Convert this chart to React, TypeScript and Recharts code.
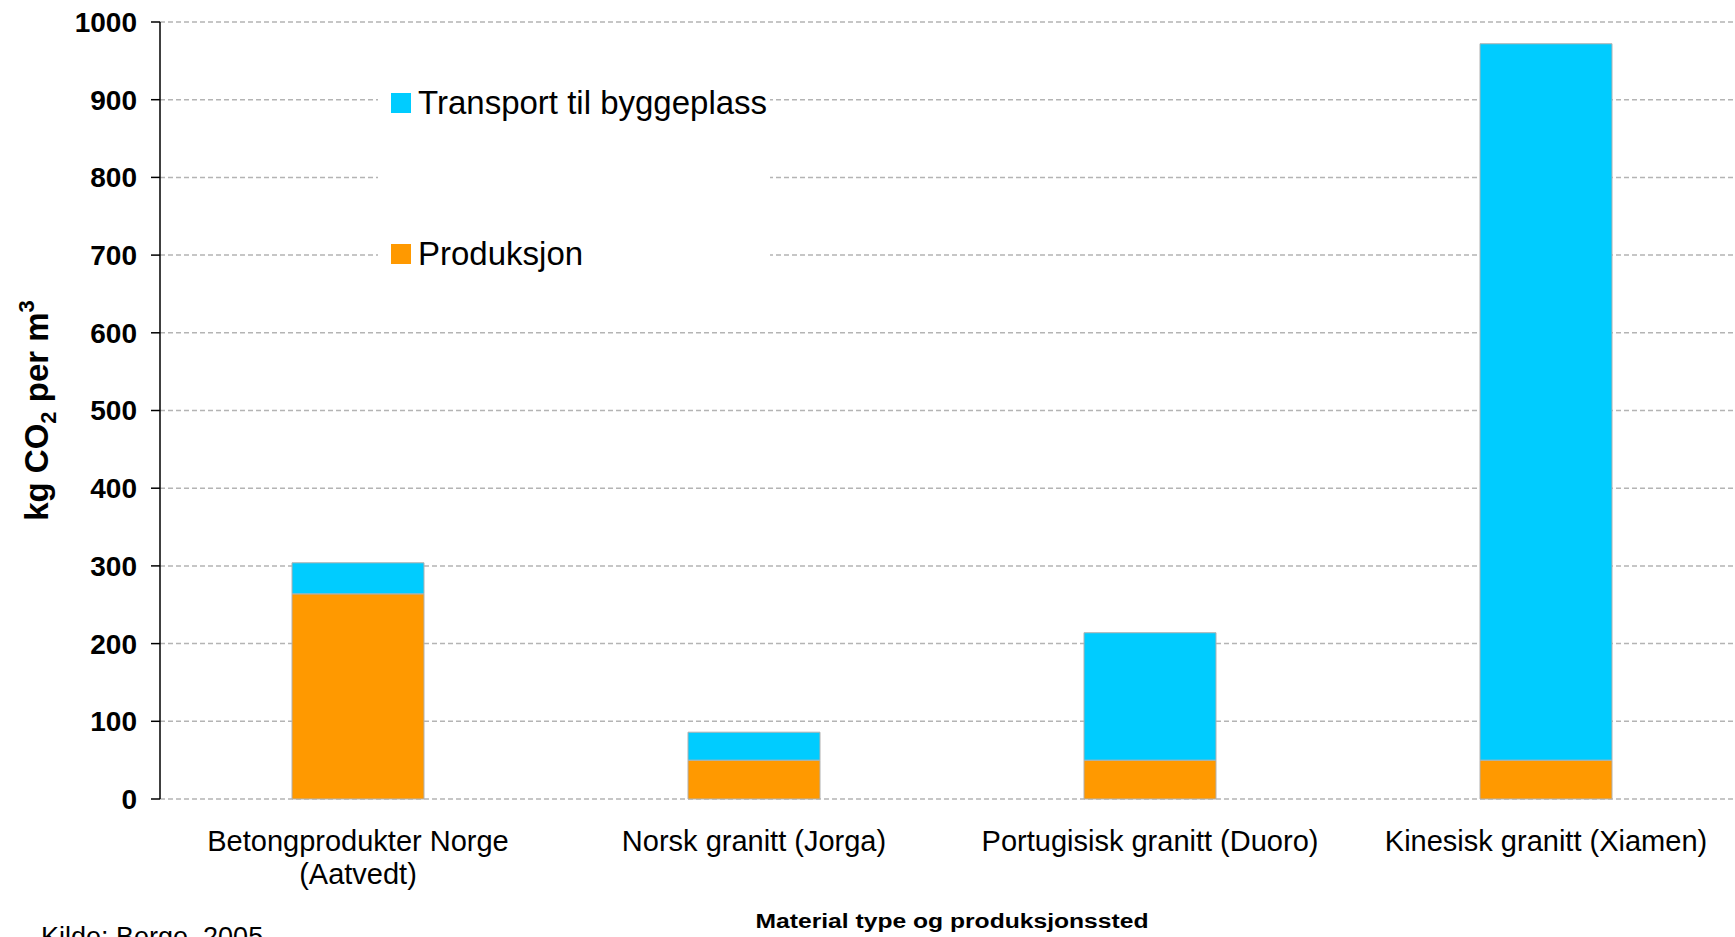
import React from "react";
import { BarChart, Bar, XAxis, YAxis, CartesianGrid, Legend, Label } from "recharts";

const categories = [
  "Betongprodukter Norge\n(Aatvedt)",
  "Norsk granitt (Jorga)",
  "Portugisisk granitt (Duoro)",
  "Kinesisk granitt (Xiamen)",
];
const produksjon = [264, 50, 50, 50];
const transport = [40, 36, 164, 922];
const yTicks = [0, 100, 200, 300, 400, 500, 600, 700, 800, 900, 1000];

const seriesNames = { produksjon: "Produksjon", transport: "Transport til byggeplass" };
const colors = { produksjon: "#FF9900", transport: "#00CCFF" };

const data = categories.map((name, i) => ({
  name,
  produksjon: produksjon[i],
  transport: transport[i],
}));

const FONT = '"Liberation Sans", Arial, sans-serif';

function XTick({ x, y, payload }: any) {
  const lines = String(payload.value).split("\n");
  return (
    <text x={x} y={y} textAnchor="middle" fontFamily={FONT} fontSize={29} fill="#000">
      {lines.map((l, i) => (
        <tspan key={i} x={x} dy={i === 0 ? 52 : 33}>
          {l}
        </tspan>
      ))}
    </text>
  );
}

function LegendBox() {
  const rows = [
    { key: "transport", top: 33 },
    { key: "produksjon", top: 184 },
  ] as const;
  return (
    <div style={{ position: "relative", width: 392, height: 215, background: "#fff" }}>
      {rows.map((r) => (
        <div
          key={r.key}
          style={{
            position: "absolute",
            left: 13,
            top: r.top - 20,
            height: 40,
            display: "flex",
            alignItems: "center",
            fontFamily: FONT,
            fontSize: 33,
            color: "#000",
            whiteSpace: "nowrap",
          }}
        >
          <span style={{ width: 20, height: 20, background: colors[r.key], marginRight: 7 }} />
          {seriesNames[r.key]}
        </div>
      ))}
    </div>
  );
}

export default function App() {
  return (
    <div
      style={{
        position: "absolute",
        left: 0,
        top: 0,
        width: 1735,
        height: 937,
        overflow: "hidden",
        background: "#fff",
      }}
    >
      <BarChart width={1744} height={937} data={data} margin={{ top: 22, right: 0, left: 60, bottom: 38 }}>
        <CartesianGrid vertical={false} strokeDasharray="5 3" stroke="#b4b4b4" strokeWidth={1.5} />
        <XAxis
          dataKey="name"
          height={100}
          axisLine={false}
          tickLine={false}
          tickSize={0}
          tickMargin={0}
          interval={0}
          tick={<XTick />}
        >
          <Label
            content={({ viewBox }: any) => (
              <text
                x={viewBox.x + viewBox.width / 2}
                y={viewBox.y + 129}
                textAnchor="middle"
                fontFamily={FONT}
                fontWeight="bold"
                fontSize={20}
                textLength={393}
                lengthAdjust="spacingAndGlyphs"
                fill="#000"
              >
                Material type og produksjonssted
              </text>
            )}
          />
          <Label
            content={({ viewBox }: any) => (
              <text x={41} y={viewBox.y + 147} fontFamily={FONT} fontSize={27} fill="#000">
                Kilde: Berge, 2005
              </text>
            )}
          />
        </XAxis>
        <YAxis
          width={100}
          domain={[0, 1000]}
          ticks={yTicks}
          interval={0}
          axisLine={{ stroke: "#000", strokeWidth: 1.5 }}
          tickLine={{ stroke: "#000", strokeWidth: 1.5 }}
          tickSize={9}
          tickMargin={14}
          tick={{ fontFamily: FONT, fontSize: 28, fontWeight: "bold", fill: "#000" }}
        >
          <Label
            content={({ viewBox }: any) => {
              const cx = 36;
              const cy = viewBox.y + viewBox.height / 2;
              return (
                <text
                  transform={`translate(${cx + 12}, ${cy}) rotate(-90)`}
                  textAnchor="middle"
                  fontFamily={FONT}
                  fontWeight="bold"
                  fontSize={33}
                  fill="#000"
                >
                  kg CO
                  <tspan fontSize={22} dy={8}>2</tspan>
                  <tspan dy={-8}> per m</tspan>
                  <tspan fontSize={22} dy={-14}>3</tspan>
                </text>
              );
            }}
          />
        </YAxis>
        <Legend
          layout="vertical"
          align="center"
          verticalAlign="middle"
          content={<LegendBox />}
          wrapperStyle={{ left: 378, top: 70, width: 392, height: 215 }}
        />
        <Bar
          dataKey="produksjon"
          name={seriesNames.produksjon}
          stackId="a"
          fill={colors.produksjon}
          stroke="#b0b0b0"
          strokeWidth={1}
          barSize={132}
          isAnimationActive={false}
        />
        <Bar
          dataKey="transport"
          name={seriesNames.transport}
          stackId="a"
          fill={colors.transport}
          stroke="#b0b0b0"
          strokeWidth={1}
          barSize={132}
          isAnimationActive={false}
        />
      </BarChart>
    </div>
  );
}
